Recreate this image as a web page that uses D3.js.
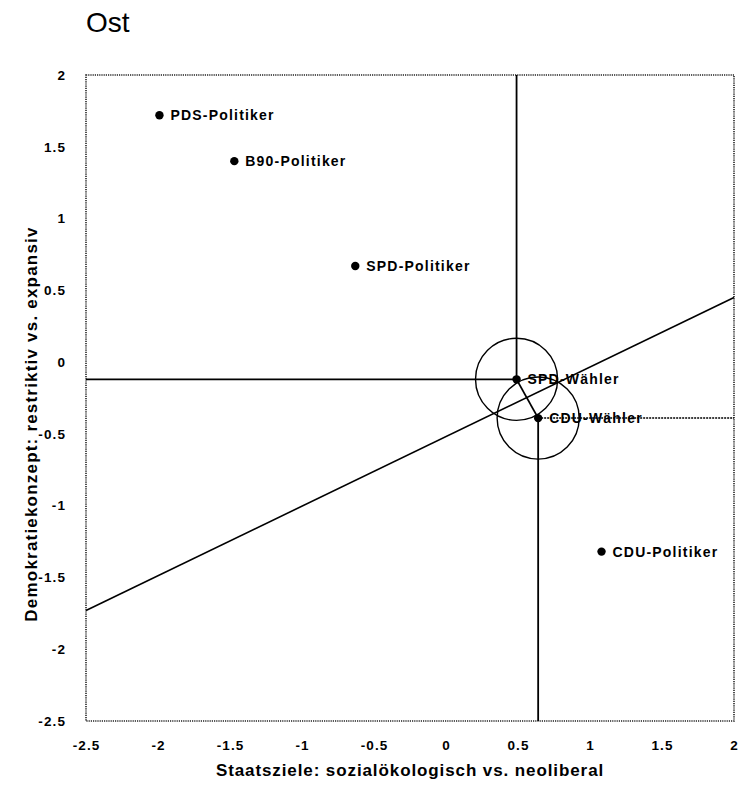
<!DOCTYPE html>
<html><head><meta charset="utf-8">
<script src="https://cdn.jsdelivr.net/npm/d3@7"></script>
<style>body{margin:0;background:#fff}</style>
</head><body>
<script>
const title = "Ost";
const xTitle = "Staatsziele: sozialökologisch vs. neoliberal";
const yTitle = "Demokratiekonzept: restriktiv vs. expansiv";
const xTicks = [-2.5,-2,-1.5,-1,-0.5,0,0.5,1,1.5,2];
const yTicks = [2,1.5,1,0.5,0,-0.5,-1,-1.5,-2,-2.5];
const labels = ["PDS-Politiker","B90-Politiker","SPD-Politiker","SPD-Wähler","CDU-Wähler","CDU-Politiker"];
const xVals = [-1.99,-1.47,-0.63,0.49,0.64,1.08];
const yVals = [1.72,1.40,0.67,-0.12,-0.39,-1.32];
const regX = [-2.5, 2];
const regY = [-1.73, 0.45];
const circleRadius = 0.285;

const W=746,H=791;
const m={l:86,r:12,t:75,b:70};
const svg=d3.select("body").append("svg").attr("width",W).attr("height",H);
const x=d3.scaleLinear().domain([-2.5,2]).range([m.l,W-m.r]);
const y=d3.scaleLinear().domain([-2.5,2]).range([H-m.b,m.t]);
const x0=x.range()[0],x1=x.range()[1],y0=y.range()[1],y1=y.range()[0];
const font="'Liberation Sans', Arial, sans-serif";

svg.append("text").attr("x",86).attr("y",32).attr("font-family",font).attr("font-size",28).text(title);

// frame
svg.append("rect").attr("x",x0).attr("y",y0).attr("width",x1-x0).attr("height",y1-y0)
  .attr("fill","none").attr("stroke","#222").attr("stroke-width",1.6).attr("stroke-dasharray","1.2,1");

// axes labels
const xAxis=d3.axisBottom(x).tickValues(xTicks).tickSize(0).tickFormat(d=>String(d));
const gx=svg.append("g").attr("transform",`translate(0,${y1+16})`).call(xAxis);
gx.select(".domain").remove();
gx.selectAll("text").attr("font-family",font).attr("font-size",13.5).attr("font-weight","bold").attr("letter-spacing",1.1);
const yAxis=d3.axisLeft(y).tickValues(yTicks).tickSize(0).tickFormat(d=>String(d));
const gy=svg.append("g").attr("transform",`translate(${x0-17},0)`).call(yAxis);
gy.select(".domain").remove();
gy.selectAll("text").attr("font-family",font).attr("font-size",13.5).attr("font-weight","bold").attr("letter-spacing",1.1);

svg.append("text").attr("x",(x0+x1)/2).attr("y",H-15).attr("text-anchor","middle")
  .attr("font-family",font).attr("font-size",17).attr("font-weight","bold").attr("letter-spacing",0.9).text(xTitle);
svg.append("text").attr("transform",`translate(37,424) rotate(-90)`).attr("text-anchor","middle")
  .attr("font-family",font).attr("font-size",17).attr("font-weight","bold").attr("letter-spacing",1.2).text(yTitle);

const g=svg.append("g").attr("stroke","#000").attr("fill","none");
// regression line
g.append("line").attr("x1",x(regX[0])).attr("y1",y(regY[0])).attr("x2",x(regX[1])).attr("y2",y(regY[1])).attr("stroke-width",1.6);
const spd=3,cdu=4;
// SPD-Wähler lines
g.append("line").attr("x1",x(xVals[spd])).attr("y1",y(yVals[spd])).attr("x2",x(xVals[spd])).attr("y2",y0).attr("stroke-width",1.8);
g.append("line").attr("x1",x(xVals[spd])).attr("y1",y(yVals[spd])).attr("x2",x0).attr("y2",y(yVals[spd])).attr("stroke-width",1.8);
// CDU-Wähler lines
g.append("line").attr("x1",x(xVals[cdu])).attr("y1",y(yVals[cdu])).attr("x2",x(xVals[cdu])).attr("y2",y1).attr("stroke-width",1.8);
g.append("line").attr("x1",x(xVals[cdu])).attr("y1",y(yVals[cdu])).attr("x2",x1).attr("y2",y(yVals[cdu])).attr("stroke-width",1.5).attr("stroke-dasharray","2,1");
// connector
g.append("line").attr("x1",x(xVals[spd])).attr("y1",y(yVals[spd])).attr("x2",x(xVals[cdu])).attr("y2",y(yVals[cdu])).attr("stroke-width",1.8);
// circles
[spd,cdu].forEach(i=>{
  g.append("circle").attr("cx",x(xVals[i])).attr("cy",y(yVals[i])).attr("r",x(circleRadius)-x(0)).attr("stroke-width",1.4);
});

// points
const pts=svg.append("g");
labels.forEach((lab,i)=>{
  pts.append("circle").attr("cx",x(xVals[i])).attr("cy",y(yVals[i])).attr("r",4.2).attr("fill","#000");
  pts.append("text").attr("x",x(xVals[i])+11).attr("y",y(yVals[i])).attr("dy","0.36em")
    .attr("font-family",font).attr("font-size",14).attr("font-weight","bold").attr("letter-spacing",1.2).text(lab);
});
</script>
</body></html>
